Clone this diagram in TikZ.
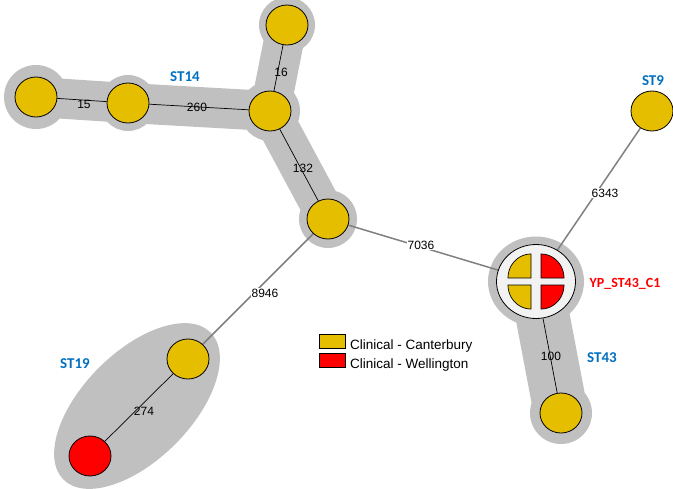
\documentclass[tikz,border=0pt]{standalone}
\usepackage{fontspec}
\setmainfont{Liberation Sans}
\newfontfamily\labfont{Carlito}
\usetikzlibrary{shapes.geometric}
\definecolor{nodey}{RGB}{230,190,0}
\definecolor{halog}{RGB}{192,192,192}
\definecolor{edgeg}{RGB}{128,128,128}
\definecolor{stblue}{RGB}{0,112,192}
\definecolor{hubw}{RGB}{242,242,242}
\pgfdeclarelayer{halo}
\pgfdeclarelayer{edges}
\pgfsetlayers{halo,edges,main}
\begin{document}
\begin{tikzpicture}[x=1pt,y=-1pt,
  stnode/.style={ellipse, draw=black, line width=0.8pt, inner sep=0pt,
    minimum width=42pt, minimum height=40pt, fill=nodey},
  rednode/.style={stnode, fill=red},
  hubnode/.style={ellipse, draw=black, line width=0.8pt, inner sep=0pt,
    minimum width=79pt, minimum height=74pt, fill=hubw},
  band/.style={draw=halog, line cap=round, line join=round},
  intra/.style={draw=black, line width=0.7pt},
  inter/.style={draw=edgeg, line width=1.5pt},
  elab/.style={font=\fontsize{12}{14}\selectfont, inner sep=0.5pt},
  elabw/.style={elab, fill=white},
  grp/.style={font=\labfont\bfseries\fontsize{15}{17}\selectfont, text=stblue, inner sep=0pt},
  quarter/.style={draw=black, line width=0.7pt},
  legbox/.style={draw=black, line width=0.6pt},
  legtext/.style={font=\fontsize{13.5}{16}\selectfont, anchor=base west, inner sep=0pt}
]
\useasboundingbox (0,0) rectangle (673,488);

% nodes
\node[stnode] (A) at (36,97) {};
\node[stnode] (B) at (128,103) {};
\node[stnode] (C) at (287,25) {};
\node[stnode] (D) at (270,111) {};
\node[stnode] (E) at (328,219) {};
\node[stnode] (F) at (652,111) {};
\node[hubnode] (G) at (536,281.5) {};
\node[stnode] (H) at (561,413) {};
\node[stnode] (I) at (188,359) {};
\node[rednode] (J) at (90,456) {};

% hub quarters
\fill[nodey] (531,278) -- plot[domain=180:270, samples=25] ({531+23*cos(\x)},{278+24*sin(\x)}) -- cycle;
\draw[quarter] (531,278) -- plot[domain=180:270, samples=25] ({531+23*cos(\x)},{278+24*sin(\x)}) -- cycle;
\fill[red] (541,278) -- plot[domain=270:360, samples=25] ({541+23*cos(\x)},{278+24*sin(\x)}) -- cycle;
\draw[quarter] (541,278) -- plot[domain=270:360, samples=25] ({541+23*cos(\x)},{278+24*sin(\x)}) -- cycle;
\fill[red] (541,285) -- plot[domain=0:90, samples=25] ({541+23*cos(\x)},{285+24*sin(\x)}) -- cycle;
\draw[quarter] (541,285) -- plot[domain=0:90, samples=25] ({541+23*cos(\x)},{285+24*sin(\x)}) -- cycle;
\fill[nodey] (531,285) -- plot[domain=90:180, samples=25] ({531+23*cos(\x)},{285+24*sin(\x)}) -- cycle;
\draw[quarter] (531,285) -- plot[domain=90:180, samples=25] ({531+23*cos(\x)},{285+24*sin(\x)}) -- cycle;

% halos
\begin{pgfonlayer}{halo}
  \draw[band, line width=40pt] (A.center) -- (B.center) -- (D.center) -- (E.center);
  \draw[band, line width=40pt] (C.center) -- (D.center);
  \fill[halog] (A.center) circle [radius=32];
  \fill[halog] (B.center) circle [radius=28];
  \fill[halog] (C.center) circle [radius=28];
  \fill[halog] (D.center) circle [radius=30];
  \fill[halog] (E.center) circle [radius=29];
  \draw[band, line width=54pt] (G.center) -- (H.center);
  \fill[halog] (G.center) ellipse [x radius=48, y radius=45];
  \fill[halog] (H.center) circle [radius=31];
  \fill[halog, rotate around={45:(137,406)}] (137,406) ellipse [x radius=104, y radius=54];
\end{pgfonlayer}

% connectors
\begin{pgfonlayer}{edges}
  \draw[intra] (A) -- (B);
  \draw[intra] (B) -- (D);
  \draw[intra] (C) -- (D);
  \draw[intra] (D) -- (E);
  \draw[intra] (I) -- (J);
  \draw[intra] (G) -- (H);
  \draw[inter] (E) -- (G);
  \draw[inter] (E) -- (I);
  \draw[inter] (F) -- (G);
\end{pgfonlayer}

% connector labels
\node[elab] (l15) at (84,104) {15};
\node[elab] (l260) at (197,107) {260};
\node[elab] (l16) at (281,72) {16};
\node[elab] (l132) at (303,168) {132};
\node[elab] (l274) at (144,411) {274};
\node[elab] (l100) at (551,356) {100};
\node[elabw] (l7036) at (421,245) {7036};
\node[elabw] (l8946) at (265,293) {8946};
\node[elabw] (l6343) at (605,193) {6343};

% group labels
\node[grp] (gST14) at (185,77) {ST14};
\node[grp] (gST9) at (653,81) {ST9};
\node[grp, text=red, font=\labfont\bfseries\fontsize{14}{16}\selectfont] (gYP) at (625,284) {YP\_ST43\_C1};
\node[grp] (gST43) at (602,358) {ST43};
\node[grp] (gST19) at (75,364) {ST19};

% legend
\draw[legbox, fill=nodey] (319,334) rectangle (345,348);
\draw[legbox, fill=red] (319,353) rectangle (345,367);
\node[legtext] (leg1) at (350,349) {Clinical - Canterbury};
\node[legtext] (leg2) at (350,368) {Clinical - Wellington};
\end{tikzpicture}
\end{document}
